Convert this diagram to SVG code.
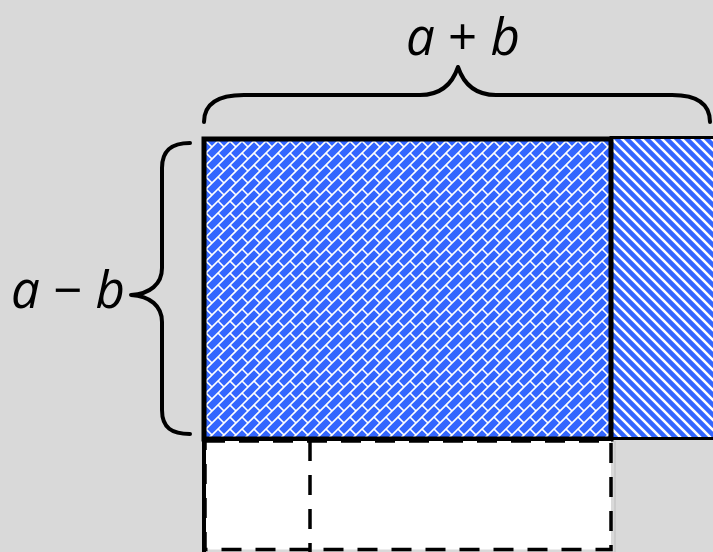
<svg xmlns="http://www.w3.org/2000/svg" width="713" height="552" viewBox="0 0 713 552">
<style>
.brace{fill:none;stroke:#000;stroke-width:4;stroke-linecap:round;stroke-linejoin:round}
.lbl{font-family:"Open Sans","Noto Sans",sans-serif;font-size:51px;fill:#000}
.it{font-style:italic}
.dash{fill:none;stroke:#000;stroke-width:3.5;stroke-dasharray:20 14}
</style>
<defs>
<pattern id="brick" patternUnits="userSpaceOnUse" width="24" height="12" x="206" y="141">
<rect width="24" height="12" fill="#3366FF"/>
<g stroke="#fff" stroke-width="1.6" fill="none">
<path d="M-6,6 L6,-6 M-2,14 L14,-2 M10,14 L26,-2 M18,18 L30,6"/>
<path d="M0,0 L6,6 M24,0 L30,6 M0,12 L6,18 M24,12 L30,18 M12,0 L18,6 M12,12 L18,18 M-6,6 L0,12 M18,-6 L24,0"/>
</g>
</pattern>
<pattern id="diag" patternUnits="userSpaceOnUse" width="10" height="10" x="612" y="139">
<rect width="10" height="10" fill="#3366FF"/>
<path d="M-2,-2 L12,12 M-2,8 L2,12 M8,-2 L12,2" stroke="#fff" stroke-width="2.6"/>
</pattern>
</defs>
<rect width="713" height="552" fill="#D9D9D9"/>
<g id="strip">
<rect x="611" y="137.5" width="106" height="301" fill="url(#diag)" stroke="#000" stroke-width="3"/>
</g>
<g id="blue-rect">
<rect x="204" y="139" width="407" height="300" fill="url(#brick)" stroke="#000" stroke-width="5"/>
</g>
<g id="white-rect">
<rect x="205" y="441" width="406" height="108.5" fill="#fff"/>
<rect x="205" y="441" width="406" height="108.5" class="dash"/>
<line x1="310" y1="441" x2="310" y2="552" class="dash"/>
<line x1="204" y1="437" x2="204" y2="552" stroke="#000" stroke-width="4"/>
<line x1="615" y1="441" x2="615" y2="552" stroke="#bdbdbd" stroke-width="1"/>
</g>
<g id="connectors">
<path class="brace" d="M204,122 C204,104 218,95 244,95 L420,95 C440,95 452,85 458,67 C464,85 476,95 496,95 L672,95 C698,95 710,104 710,122"/>
<path class="brace" d="M190,143 C172,143 162,150 162,168 L162,268 C162,284 150,294 131,295 C150,296 162,306 162,322 L162,410 C162,428 172,434 190,434"/>
</g>
<g id="label-top">
<text class="lbl" x="463" y="55" text-anchor="middle"><tspan class="it">a</tspan> + <tspan class="it">b</tspan></text>
</g>
<g id="label-left">
<text class="lbl" x="68" y="308" text-anchor="middle"><tspan class="it">a</tspan> − <tspan class="it">b</tspan></text>
</g>
</svg>
